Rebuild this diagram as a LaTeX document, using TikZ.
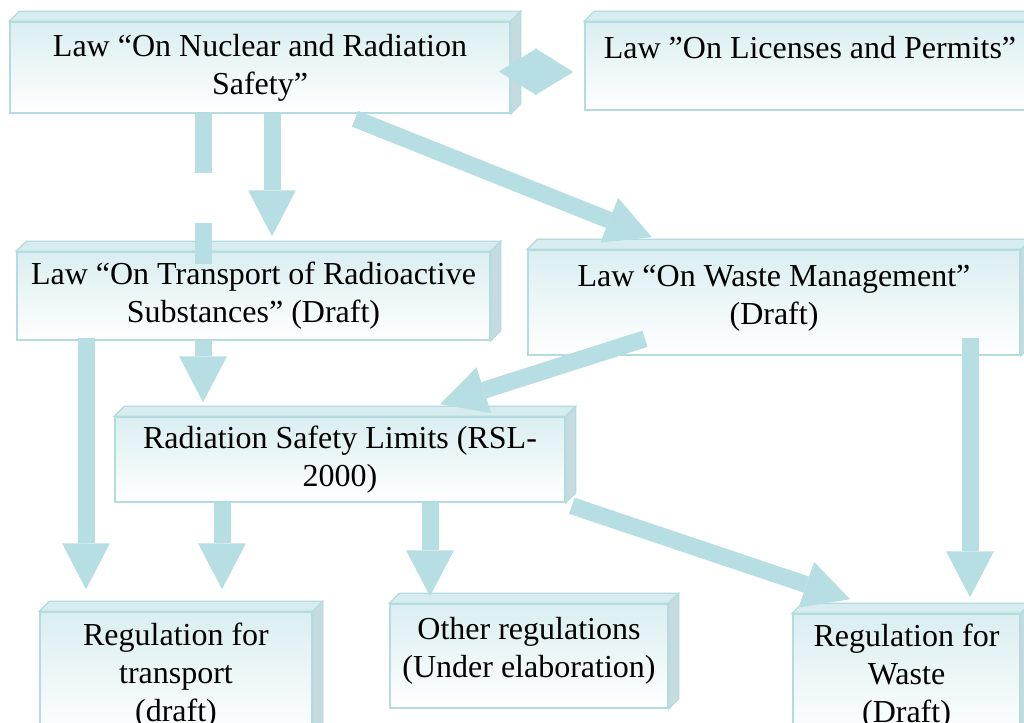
\documentclass[tikz,border=0pt]{standalone}
\usepackage{fontspec}
\setmainfont{Liberation Serif}
\usetikzlibrary{arrows.meta}
\definecolor{flow}{RGB}{183,222,226}
\definecolor{edge}{RGB}{180,219,224}
\definecolor{facetop}{RGB}{218,238,241}
\definecolor{lid}{RGB}{214,236,239}
\definecolor{flank}{RGB}{198,219,223}

% top and right faces of a slab
\newcommand{\slabfaces}[1]{%
  \filldraw[face=lid] (#1.north west) -- ++(10pt,10pt) -- ([shift={(10pt,10pt)}]#1.north east) -- (#1.north east) -- cycle;
  \filldraw[face=flank] (#1.north east) -- ++(10pt,10pt) -- ([shift={(10pt,10pt)}]#1.south east) -- (#1.south east) -- cycle;
}

\begin{document}
\begin{tikzpicture}[x=1pt, y=-1pt,
  face/.style={fill=#1, draw=edge, line width=1.2pt},
  slab/.style={draw=edge, line width=1.5pt, top color=facetop, bottom color=white,
    align=center, inner sep=0pt, font=\fontsize{32pt}{38pt}\selectfont},
  flowline/.style={draw=flow, line width=17pt, -{Triangle[width=48pt,length=46pt,line width=0pt]}}]

\useasboundingbox (0,0) rectangle (1024,722);
\clip (0,0) rectangle (1024,722);

\node[slab, minimum width=500pt, minimum height=91pt] (nuclear) at (260,67.5) {Law “On Nuclear and Radiation\\Safety”};
\slabfaces{nuclear}
\node[slab, minimum width=450pt, minimum height=88pt] (licenses) at (810,66) {Law ”On Licenses and Permits”\\\mbox{}};
\slabfaces{licenses}

\node[slab, minimum width=473pt, minimum height=88pt] (transport) at (253.5,296) {Law “On Transport of Radioactive\\Substances” (Draft)};
\slabfaces{transport}
\node[slab, minimum width=492pt, minimum height=105pt] (waste) at (774,302.5) {Law “On Waste Management”\\(Draft)\\[-22pt]\mbox{}};
\slabfaces{waste}

\node[slab, minimum width=450pt, minimum height=85pt] (rsl) at (340,459.5) {Radiation Safety Limits (RSL-\\2000)};
\slabfaces{rsl}

\node[slab, minimum width=272pt, minimum height=128pt] (regtransport) at (176,676) {Regulation for\\transport\\(draft)};
\slabfaces{regtransport}
\node[slab, minimum width=278pt, minimum height=104pt] (other) at (529,656) {Other regulations\\(Under elaboration)\\[-20pt]\mbox{}};
\slabfaces{other}
\node[slab, minimum width=227pt, minimum height=126pt] (regwaste) at (906.5,677) {Regulation for\\Waste\\(Draft)};
\slabfaces{regwaste}

\draw[draw=flow, line width=17pt, {Triangle[width=47pt,length=38pt,line width=0pt]}-{Triangle[width=47pt,length=38pt,line width=0pt]}]
  ([xshift=-12pt,yshift=-4pt]nuclear.east) -- ([xshift=-11pt,yshift=-6pt]licenses.west);

\draw[flowline] ([xshift=12pt]nuclear.south) -- ([xshift=18.5pt,yshift=15pt]transport.north);
\draw[flowline, dash pattern=on 59pt off 50pt on 41pt off 77pt on 300pt]
  ([xshift=-57pt]nuclear.south) -- ([xshift=-137pt,yshift=14pt]rsl.north);
\draw[flowline] ([xshift=95pt,yshift=-5pt]nuclear.south) -- ([xshift=-122pt,yshift=12pt]waste.north);

\draw[flowline] ([xshift=-129pt,yshift=17pt]waste.south) -- ([xshift=100pt,yshift=12pt]rsl.north);
\draw[flowline] ([xshift=-167.5pt,yshift=3pt]transport.south) -- ([xshift=-90pt,yshift=22pt]regtransport.north);
\draw[flowline] ([xshift=196pt,yshift=18pt]waste.south) -- ([xshift=63.5pt,yshift=16pt]regwaste.north);

\draw[flowline] ([xshift=-118pt]rsl.south) -- ([xshift=46pt,yshift=22pt]regtransport.north);
\draw[flowline] ([xshift=90pt]rsl.south) -- ([xshift=-99pt,yshift=7pt]other.north);
\draw[flowline] ([xshift=6pt,yshift=-3pt]rsl.south east) -- ([xshift=-56.5pt,yshift=14pt]regwaste.north);
\end{tikzpicture}
\end{document}
